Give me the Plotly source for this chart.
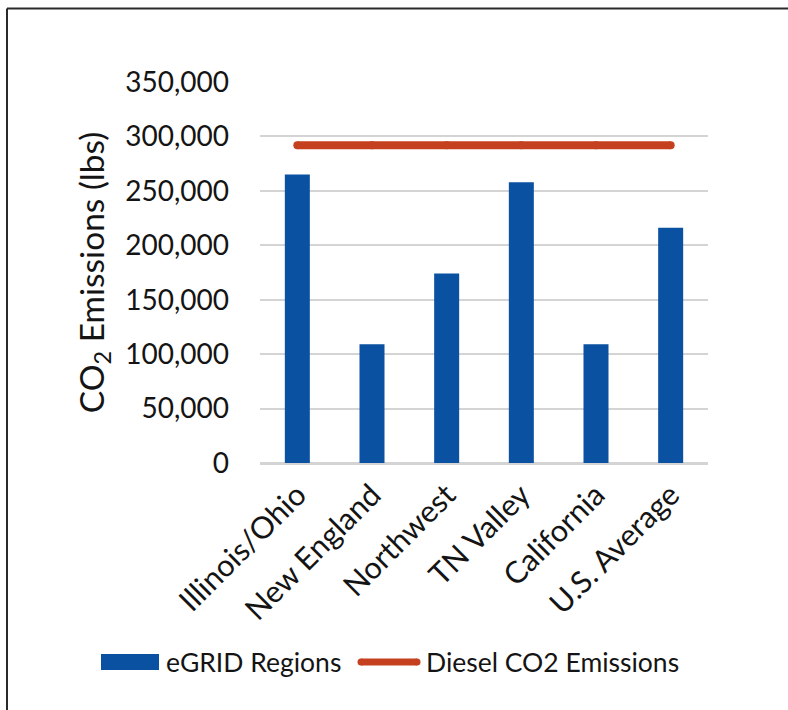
import plotly.graph_objects as go

# Data
regions = ["Illinois/Ohio", "New England", "Northwest", "TN Valley", "California", "U.S. Average"]
egrid_lbs = [265000, 109000, 174000, 258000, 109000, 216000]
diesel_lbs = [292000] * len(regions)
y_ticks = [0, 50000, 100000, 150000, 200000, 250000, 300000, 350000]

BLUE = "#0b51a1"
RED = "#c5401f"
GRID = "#d4d4d4"
TEXT = "#141414"
FONT = "Lato"

W, H = 788, 710
L, R, T, B = 260, 80, 82, 247
pw, ph = W - L - R, H - T - B


def px_x(x):
    return (x - L) / pw


def px_y(y):
    return (H - B - y) / ph


fig = go.Figure()

fig.add_trace(go.Bar(
    x=regions, y=egrid_lbs, name="eGRID Regions",
    marker=dict(color=BLUE, line=dict(width=0)),
))

fig.add_trace(go.Scatter(
    x=regions, y=diesel_lbs, name="Diesel CO2 Emissions",
    mode="lines+markers",
    line=dict(color=RED, width=8),
    marker=dict(color=RED, size=8, line=dict(width=0)),
))

# legend drawn beneath the plot
leg_y = 662
shapes = [
    dict(type="rect", xref="paper", yref="paper",
         x0=px_x(101), x1=px_x(159), y0=px_y(670), y1=px_y(654),
         fillcolor=BLUE, line=dict(width=0)),
    dict(type="line", xref="paper", yref="paper",
         x0=px_x(361), x1=px_x(417), y0=px_y(leg_y), y1=px_y(leg_y),
         line=dict(color=RED, width=7)),
    dict(type="circle", xref="paper", yref="paper",
         x0=px_x(357.5), x1=px_x(364.5), y0=px_y(leg_y + 3.5), y1=px_y(leg_y - 3.5),
         fillcolor=RED, line=dict(width=0)),
    dict(type="circle", xref="paper", yref="paper",
         x0=px_x(413.5), x1=px_x(420.5), y0=px_y(leg_y + 3.5), y1=px_y(leg_y - 3.5),
         fillcolor=RED, line=dict(width=0)),
    # frame edges
    dict(type="line", xref="paper", yref="paper",
         x0=px_x(7), x1=px_x(W + 5), y0=px_y(8.5), y1=px_y(8.5),
         line=dict(color="#2a2a2a", width=2)),
    dict(type="line", xref="paper", yref="paper",
         x0=px_x(7), x1=px_x(7), y0=px_y(8.5), y1=px_y(H + 5),
         line=dict(color="#2a2a2a", width=2)),
]

annotations = [
    dict(text="eGRID Regions", xref="paper", yref="paper",
         x=px_x(164), y=px_y(leg_y), xanchor="left", yanchor="middle",
         showarrow=False, font=dict(family=FONT, size=26.5, color=TEXT)),
    dict(text="Diesel CO2 Emissions", xref="paper", yref="paper",
         x=px_x(424), y=px_y(leg_y), xanchor="left", yanchor="middle",
         showarrow=False, font=dict(family=FONT, size=26.5, color=TEXT)),
]

fig.update_layout(
    width=W, height=H,
    margin=dict(l=L, r=R, t=T, b=B, autoexpand=False),
    paper_bgcolor="white", plot_bgcolor="white",
    showlegend=False,
    bargap=0.665,
    font=dict(family=FONT, color=TEXT, size=28),
    shapes=shapes,
    annotations=annotations,
    xaxis=dict(
        tickangle=-45, tickfont=dict(size=30.5, family=FONT, color=TEXT),
        showgrid=False, showline=True, linecolor=GRID, linewidth=2,
        ticks="", automargin=False,
    ),
    yaxis=dict(
        range=[0, 350000], tickvals=y_ticks,
        ticktext=[f"{v:,}" for v in y_ticks],
        tickfont=dict(size=28, family=FONT, color=TEXT),
        showgrid=True, gridcolor=GRID, gridwidth=1.5,
        zeroline=True, zerolinecolor=GRID, zerolinewidth=2,
        showline=False, ticks="", ticklabelstandoff=30,
        title=dict(text="CO<sub>2</sub> Emissions (lbs)", standoff=10,
                   font=dict(size=33.5, family=FONT, color=TEXT)),
        automargin=False,
    ),
)

fig.write_html("out.html")
